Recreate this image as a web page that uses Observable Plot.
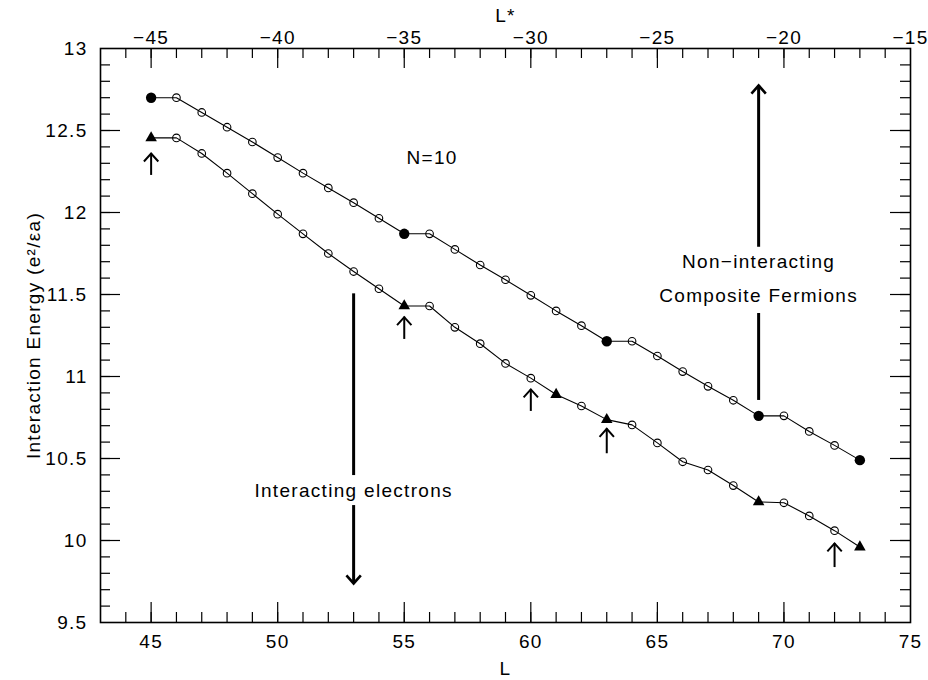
<!DOCTYPE html>
<html>
<head>
<meta charset="utf-8">
<script src="https://cdn.jsdelivr.net/npm/d3@7"></script>
<script src="https://cdn.jsdelivr.net/npm/@observablehq/plot@0.6"></script>
<style>
  body { margin: 0; background: #fff; }
</style>
</head>
<body>
<div id="chart"></div>
<script>
// ---- data ----
const L = [45, 46, 47, 48, 49, 50, 51, 52, 53, 54, 55, 56, 57, 58, 59, 60, 61, 62, 63, 64, 65, 66, 67, 68, 69, 70, 71, 72, 73];
// Non-interacting composite fermions (upper curve)
const upperE = [12.70, 12.70, 12.61, 12.52, 12.43, 12.335, 12.24, 12.15, 12.06, 11.965, 11.87, 11.87, 11.775, 11.68, 11.59, 11.495, 11.40, 11.31, 11.215, 11.215, 11.125, 11.03, 10.94, 10.855, 10.76, 10.76, 10.665, 10.58, 10.49];
// Interacting electrons (lower curve)
const lowerE = [12.455, 12.455, 12.36, 12.24, 12.115, 11.99, 11.87, 11.75, 11.64, 11.535, 11.43, 11.43, 11.30, 11.20, 11.08, 10.99, 10.89, 10.82, 10.737, 10.705, 10.595, 10.48, 10.43, 10.335, 10.235, 10.23, 10.15, 10.06, 9.96];
const upperFilled = [45, 55, 63, 69, 73];
const lowerFilled = [45, 55, 61, 63, 69, 73];

// small arrows under lower curve
const arrowL = [45, 55, 60, 63, 72];
const arrowTip = [12.36, 11.362, 10.921, 10.681, 9.982];
const arrowTail = [12.226, 11.226, 10.787, 10.529, 9.835];

// big annotation arrows (shafts and heads)
const shaftL = [53, 53, 69, 69];
const shaftFrom = [11.504, 10.213, 11.788, 11.384];
const shaftTo = [10.396, 9.738, 12.774, 10.854];
const headL = [53, 69];
const headE = [9.738, 12.774];
const headRotate = [180, 0];

// annotation texts
const annoText = ["N=10", "Interacting electrons", "Non\u2212interacting", "Composite Fermions"];
const annoL = [56.1, 53, 69, 69];
const annoE = [12.335, 10.305, 11.697, 11.494];

// axes
const bottomTicks = [45, 50, 55, 60, 65, 70, 75];
const topTicks = [-45, -40, -35, -30, -25, -20, -15]; // L* = L - 90
const lStarShift = 90;
const yTicks = [9.5, 10, 10.5, 11, 11.5, 12, 12.5, 13];
const xMinor = d3.range(44, 75);
const xMajor = [45, 50, 55, 60, 65, 70];
const yMinor = d3.range(96, 130).map(d => d / 10);
const yMajor = [10, 10.5, 11, 11.5, 12, 12.5];
const xLabel = "L";
const topLabel = "L*";
const yLabel = "Interaction Energy (e\u00B2/\u03B5a)";

// ---- layout ----
const W = 928, H = 680, mt = 48, mr = 18, mb = 58, ml = 100;
const fh = H - mt - mb, fw = W - ml - mr;
const minorLen = 10, majorLen = 20;

const upper = L.map((l, i) => ({L: l, E: upperE[i]}));
const lower = L.map((l, i) => ({L: l, E: lowerE[i]}));
const arrows = arrowL.map((l, i) => ({L: l, tip: arrowTip[i], tail: arrowTail[i]}));
const shafts = shaftL.map((l, i) => ({L: l, a: shaftFrom[i], b: shaftTo[i]}));
const heads = headL.map((l, i) => ({L: l, E: headE[i], rot: headRotate[i]}));
const annos = annoText.map((t, i) => ({t, L: annoL[i], E: annoE[i]}));

const chevron = {
  draw(ctx, size) {
    const r = Math.sqrt(size / Math.PI);
    ctx.moveTo(-0.9 * r, r);
    ctx.lineTo(0, 0);
    ctx.lineTo(0.9 * r, r);
  }
};

const fmtMinus = d => String(d).replace("-", "\u2212");
const tickStyle = {stroke: "black", strokeWidth: 1.2};

const chart = Plot.plot({
  width: W,
  height: H,
  marginTop: mt,
  marginRight: mr,
  marginBottom: mb,
  marginLeft: ml,
  style: {fontFamily: "'Liberation Sans', Arial, sans-serif", fontSize: "19px", letterSpacing: "1.3px", color: "black", background: "white"},
  x: {domain: [43, 75]},
  y: {domain: [9.5, 13]},
  marks: [
    // inward ticks: bottom
    Plot.tickX(xMinor, {x: d => d, insetTop: fh - minorLen, ...tickStyle}),
    Plot.tickX(xMajor, {x: d => d, insetTop: fh - majorLen, ...tickStyle}),
    // top
    Plot.tickX(xMinor, {x: d => d, insetBottom: fh - minorLen, ...tickStyle}),
    Plot.tickX(xMajor, {x: d => d, insetBottom: fh - majorLen, ...tickStyle}),
    // left
    Plot.tickY(yMinor, {y: d => d, insetRight: fw - minorLen, ...tickStyle}),
    Plot.tickY(yMajor, {y: d => d, insetRight: fw - majorLen, ...tickStyle}),
    // right
    Plot.tickY(yMinor, {y: d => d, insetLeft: fw - minorLen, ...tickStyle}),
    Plot.tickY(yMajor, {y: d => d, insetLeft: fw - majorLen, ...tickStyle}),
    // axis tick labels
    Plot.axisX(bottomTicks, {anchor: "bottom", tickSize: 0, tickPadding: 12, label: null, tickFormat: d => String(d)}),
    Plot.axisX(topTicks.map(t => t + lStarShift), {anchor: "top", tickSize: 0, tickPadding: 5, label: null, tickFormat: d => fmtMinus(d - lStarShift)}),
    Plot.axisY(yTicks, {anchor: "left", tickSize: 0, tickPadding: 13, label: null, tickFormat: d => String(d)}),
    // axis titles
    Plot.text([xLabel], {frameAnchor: "bottom", dy: 46, lineAnchor: "middle", textAnchor: "middle"}),
    Plot.text([topLabel], {frameAnchor: "top", dy: -33, lineAnchor: "middle", textAnchor: "middle"}),
    Plot.text([yLabel], {frameAnchor: "left", dx: -67, rotate: -90, lineAnchor: "middle", textAnchor: "middle"}),
    Plot.frame({stroke: "black", strokeWidth: 1.6}),
    // curves
    Plot.line(upper, {x: "L", y: "E", stroke: "black", strokeWidth: 1.1}),
    Plot.line(lower, {x: "L", y: "E", stroke: "black", strokeWidth: 1.1}),
    Plot.dot(upper.filter(d => !upperFilled.includes(d.L)), {x: "L", y: "E", r: 3.8, stroke: "black", fill: "none", strokeWidth: 1.1}),
    Plot.dot(lower.filter(d => !lowerFilled.includes(d.L)), {x: "L", y: "E", r: 3.8, stroke: "black", fill: "none", strokeWidth: 1.1}),
    Plot.dot(upper.filter(d => upperFilled.includes(d.L)), {x: "L", y: "E", r: 5.2, fill: "black", stroke: "none"}),
    Plot.dot(lower.filter(d => lowerFilled.includes(d.L)), {x: "L", y: "E", r: 4.3, symbol: "triangle", fill: "black", stroke: "none"}),
    // small arrows
    Plot.ruleX(arrows, {x: "L", y1: "tail", y2: "tip", stroke: "black", strokeWidth: 2}),
    Plot.dot(arrows, {x: "L", y: "tip", symbol: chevron, r: 8, stroke: "black", fill: "none", strokeWidth: 2}),
    // big arrows
    Plot.ruleX(shafts, {x: "L", y1: "a", y2: "b", stroke: "black", strokeWidth: 3}),
    Plot.dot(heads, {x: "L", y: "E", rotate: "rot", symbol: chevron, r: 8, stroke: "black", fill: "none", strokeWidth: 2.6}),
    // annotations
    Plot.text(annos, {x: "L", y: "E", text: "t"})
  ]
});

document.getElementById("chart").appendChild(chart);
</script>
</body>
</html>
